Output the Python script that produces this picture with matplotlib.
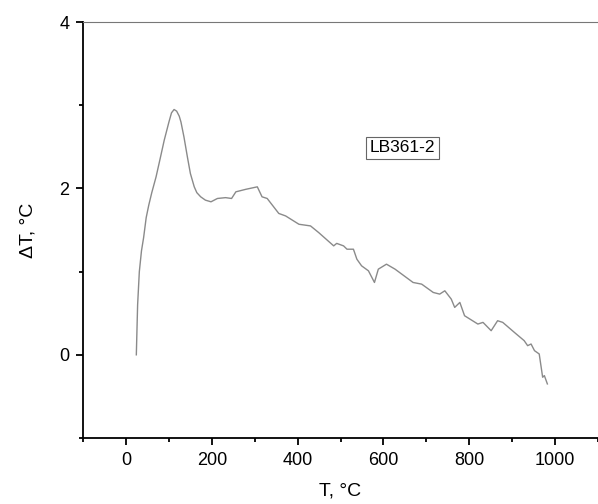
import matplotlib
matplotlib.use("Agg")
import matplotlib.pyplot as plt
from matplotlib.ticker import MultipleLocator

plt.rcParams['font.family'] = ['Liberation Sans', 'DejaVu Sans']

# DTA curve
temp = [24, 27, 31, 36, 41, 47, 53, 60, 70, 80, 89, 100, 106, 112, 118, 124,
        128, 135, 143, 150, 159, 165, 174, 185, 198, 213, 232, 246, 256, 279,
        306, 317, 329, 356, 372, 403, 430, 449, 484, 491, 507, 515, 530, 538,
        549, 565, 579, 588, 607, 627, 669, 689, 716, 731, 743, 758, 766, 778,
        789, 820, 832, 851, 866, 878, 905, 928, 936, 944, 952, 963, 971, 975,
        982]
dT = [0.0, 0.6, 1.0, 1.25, 1.41, 1.65, 1.80, 1.95, 2.14, 2.37, 2.58, 2.80,
      2.91, 2.95, 2.93, 2.87, 2.80, 2.62, 2.38, 2.18, 2.02, 1.95, 1.90, 1.86,
      1.84, 1.88, 1.89, 1.88, 1.96, 1.99, 2.02, 1.90, 1.88, 1.70, 1.67, 1.57,
      1.55, 1.47, 1.31, 1.34, 1.31, 1.27, 1.27, 1.15, 1.07, 1.01, 0.87, 1.03,
      1.09, 1.03, 0.87, 0.85, 0.75, 0.73, 0.77, 0.67, 0.57, 0.63, 0.47, 0.37,
      0.39, 0.29, 0.41, 0.39, 0.27, 0.17, 0.11, 0.13, 0.05, 0.01, -0.27, -0.25,
      -0.35]
sample = "LB361-2"

fig = plt.figure(figsize=(5.98, 5.04), dpi=100)
ax = fig.add_axes([0.139, 0.131, 0.861, 0.825])
ax.plot(temp, dT, color='#8a8a8a', lw=1.0)

ax.set_xlim(-100, 1100)
ax.set_ylim(-1, 4)
ax.xaxis.set_major_locator(MultipleLocator(200))
ax.xaxis.set_minor_locator(MultipleLocator(100))
ax.yaxis.set_major_locator(MultipleLocator(2))
ax.yaxis.set_minor_locator(MultipleLocator(1))
ax.set_xticks([0, 200, 400, 600, 800, 1000])
ax.tick_params(which='major', direction='out', length=5, width=1.3,
               labelsize=13, pad=5)
ax.tick_params(which='minor', direction='out', length=3, width=1.3)

for s in ['left', 'bottom']:
    ax.spines[s].set_linewidth(1.3)
ax.spines['top'].set_linewidth(0.8)
ax.spines['top'].set_color('#777777')
ax.spines['right'].set_visible(False)

ax.set_xlabel("T, °C", fontsize=14, labelpad=10)
ax.set_ylabel("ΔT, °C", fontsize=14, labelpad=16)

ax.text(644, 2.49, sample, fontsize=12.5, ha='center', va='center',
        bbox=dict(boxstyle='square,pad=0.2', fc='white', ec='#666666', lw=0.8))

fig.savefig("out.png", dpi=100)
